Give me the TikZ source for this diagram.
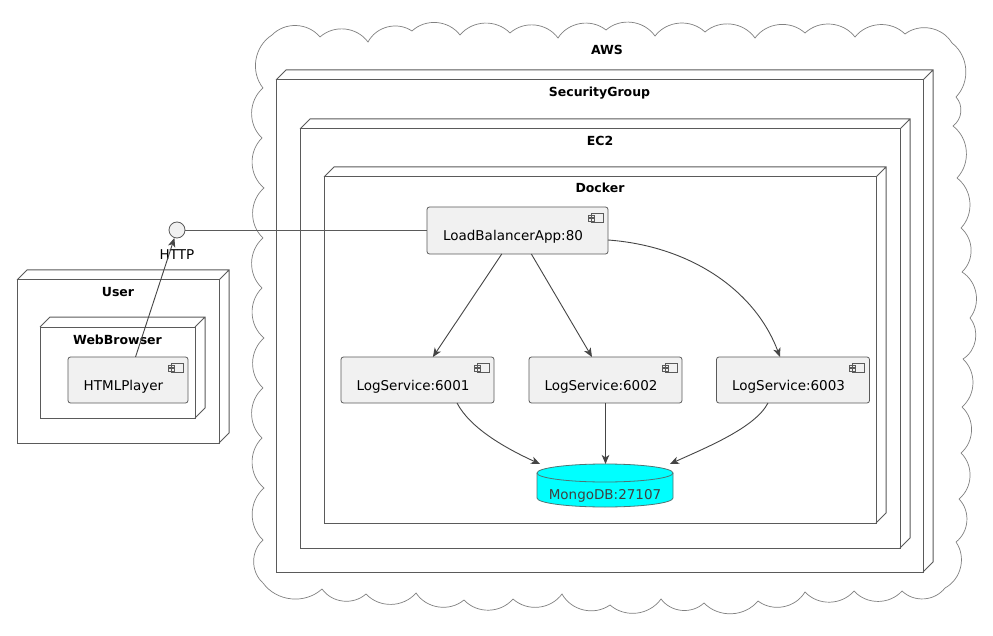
\documentclass[tikz,border=0pt]{standalone}
\usepackage{fontspec}
\setmainfont{DejaVu Sans}
\usetikzlibrary{arrows.meta,calc}

\definecolor{linegray}{HTML}{5A5A5A}
\definecolor{cloudgray}{HTML}{808080}
\definecolor{compfill}{HTML}{F1F1F1}
\definecolor{arrowgray}{HTML}{454545}
\definecolor{dbfill}{HTML}{00FFFF}
\definecolor{dbline}{HTML}{4F7474}

\tikzset{
  box/.style={draw=linegray, line width=1pt, inner sep=0pt, outer sep=0pt},
  boxtitle/.style={font=\fontsize{12.5}{15}\selectfont\bfseries},
  comp/.style={draw=linegray, fill=compfill, line width=0.8pt, rounded corners=2.5pt,
    minimum height=46, inner sep=0pt, outer sep=0pt,
    font=\fontsize{13.5}{16}\selectfont, text height=22pt, text depth=1pt,
    execute at end node={\hspace*{9pt}},
    path picture={
      \draw[linegray, line width=0.6pt, sharp corners, fill=compfill]
        ($(path picture bounding box.north east)+(-17,6)$) rectangle +(12,9)
        ($(path picture bounding box.north east)+(-20,8)$) rectangle +(6,2.5)
        ($(path picture bounding box.north east)+(-20,11.5)$) rectangle +(6,2.5);
    }},
  iface/.style={circle, draw=linegray, fill=compfill, line width=0.8pt, minimum size=16, inner sep=0pt},
  arr/.style={draw=arrowgray, line width=0.9pt, -{Stealth[length=9pt, width=7.5pt, inset=2.5pt]}},
  link/.style={draw=linegray, line width=0.9pt},
}

% back and top faces of a deployment node
\newcommand{\boxdepth}[1]{%
  \draw[linegray, line width=1pt] (#1.north west) -- ++(10,-10)
    -- ($(#1.north east)+(10,-10)$) -- ($(#1.south east)+(10,-10)$) -- (#1.south east)
    (#1.north east) -- ++(10,-10);}

\begin{document}
\begin{tikzpicture}[x=1pt, y=-1pt]

  \fill[white] (0,0) rectangle (993,636);
  \useasboundingbox (0,0) rectangle (993,636);

  % AWS cloud (cusp points, clockwise)
  \draw[cloudgray, line width=0.7pt] (272,35)
    \foreach \x/\y in {320/37, 368/42, 412/31, 460/35, 510/33, 558/38, 606/30,
      655/36, 705/32, 755/38, 805/33, 855/37, 905/34, 952/43,
      956/97, 953/126, 957/178, 961/228, 962/272, 970/318, 963/359,
      962/407, 961/453, 959/499, 956/542, 945/588,
      902/591, 854/591, 805/592, 758/601, 704/603, 661/599, 610/605,
      562/594, 513/599, 464/600, 416/593, 366/594, 322/589, 263/583,
      263/540, 264/488, 262/438, 263/388, 264/338, 262/288, 263/238,
      264/188, 262/138, 263/88, 272/35}
    { to[bend left=48] (\x,\y) };
  \node[boxtitle] (aws) at (607,50) {AWS};

  % Nested deployment nodes
  \node[box, minimum width=647, minimum height=492] (sg) at (599.5,326) {};
  \boxdepth{sg}
  \node[boxtitle] at ($(sg.north)+(0,13)$) {SecurityGroup};

  \node[box, minimum width=600, minimum height=419] (ec2) at (600,338.5) {};
  \boxdepth{ec2}
  \node[boxtitle] at ($(ec2.north)+(0,12)$) {EC2};

  \node[box, minimum width=552, minimum height=346] (docker) at (600,350) {};
  \boxdepth{docker}
  \node[boxtitle] at ($(docker.north)+(0,11)$) {Docker};

  \node[box, minimum width=202, minimum height=163] (user) at (118,361.5) {};
  \boxdepth{user}
  \node[boxtitle] at ($(user.north)+(0,12)$) {User};

  \node[box, minimum width=155, minimum height=91] (browser) at (117.5,372.5) {};
  \boxdepth{browser}
  \node[boxtitle] at ($(browser.north)+(0,13)$) {WebBrowser};

  % Components
  \node[comp, minimum width=181, minimum height=47] (lb) at (517.5,230.5) {LoadBalancerApp:80};
  \foreach \n/\x in {1/417.5, 2/605.5, 3/793}
    \node[comp, minimum width=153] (ls\n) at (\x,380) {LogService:600\n};
  \node[comp, minimum width=120] (player) at (128,380) {HTMLPlayer};

  % MongoDB cylinder
  \fill[dbfill] (537,473) -- (537,498) arc[start angle=180, end angle=0, x radius=68, y radius=9]
    -- (673,473) arc[start angle=0, end angle=-180, x radius=68, y radius=9] -- cycle;
  \draw[dbline, line width=0.8pt] (537,473) -- (537,498)
    arc[start angle=180, end angle=0, x radius=68, y radius=9] -- (673,473);
  \draw[dbline, line width=0.8pt] (605,473) ellipse[x radius=68, y radius=9];
  \node[minimum width=136, minimum height=43, inner sep=0pt, outer sep=0pt,
    font=\fontsize{13.5}{16}\selectfont, text=black!75, text height=29pt, text depth=0.5pt] (db) at (605,485.5) {MongoDB:27107};

  % HTTP interface
  \node[iface] (http) at (177,230) {};
  \node[font=\fontsize{13.5}{16}\selectfont] (httplabel) at (177,255) {HTTP};

  % Connectors
  \draw[link] (http) -- (lb.west |- http);
  \draw[arr] (player) -- (http);
  \draw[arr] (lb) -- (ls1);
  \draw[arr] (lb) -- (ls2);
  \draw[arr] ([yshift=-9.5pt]lb.east) .. controls (690,246) and (755,290) .. ([xshift=-13pt]ls3.north);
  \draw[arr] ([xshift=39.5pt]ls1.south) .. controls (470,428) and (505,448) .. ([xshift=3pt]db.north west);
  \draw[arr] (ls2.south) -- (ls2.south |- db.north);
  \draw[arr] ([xshift=-25pt]ls3.south) .. controls (755,428) and (705,448) .. ([xshift=-3pt]db.north east);

\end{tikzpicture}
\end{document}
